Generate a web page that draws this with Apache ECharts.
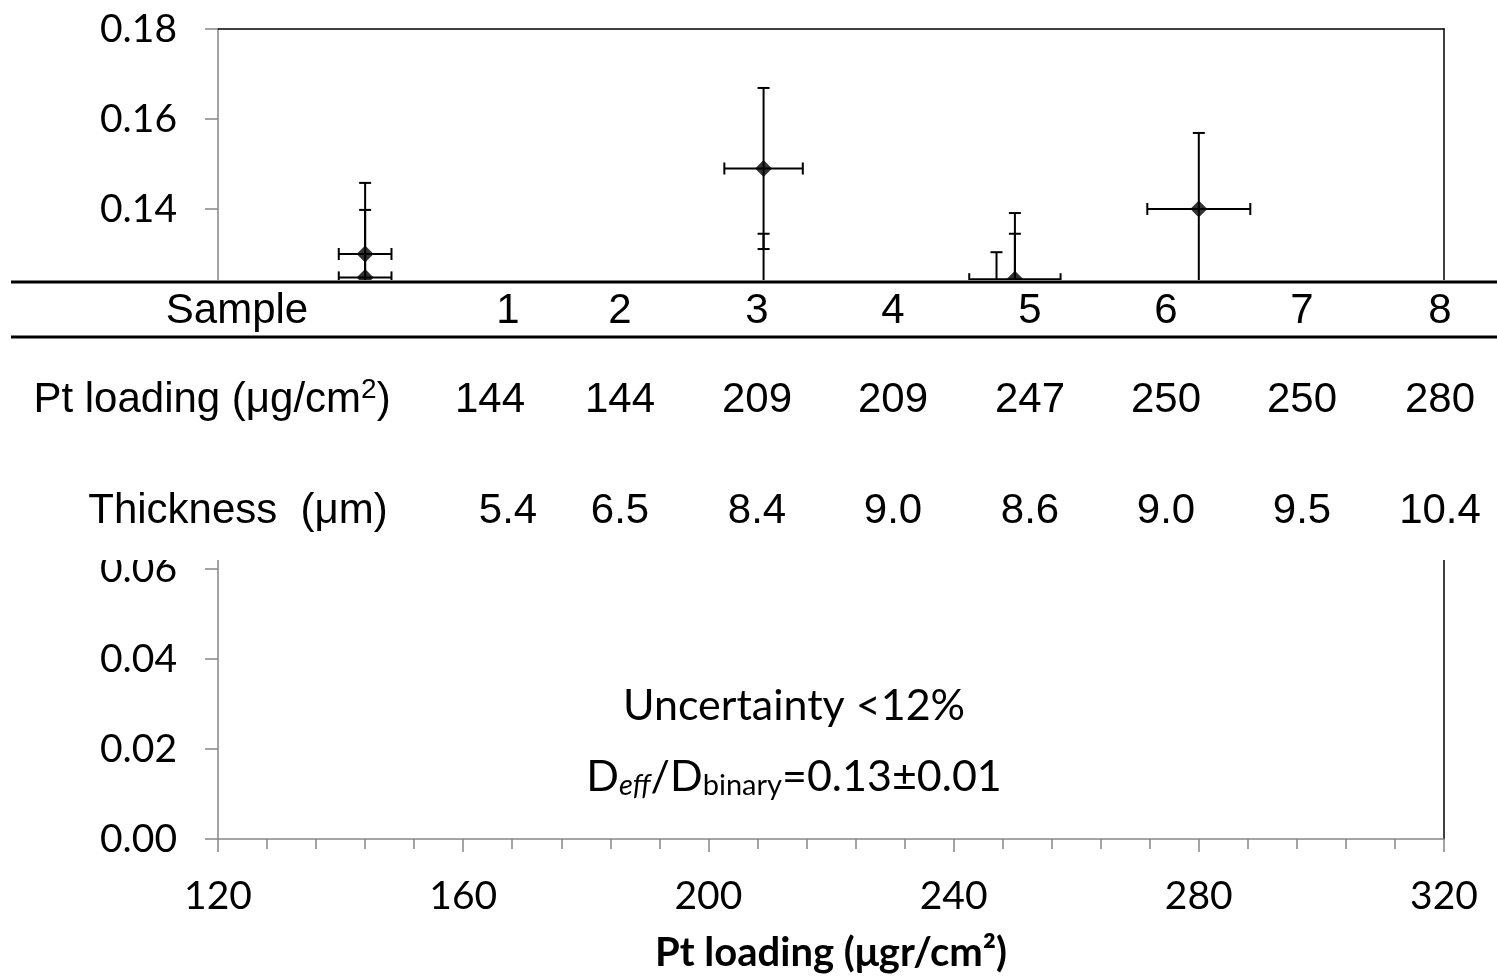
<!DOCTYPE html>
<html><head><meta charset="utf-8">
<script src="https://cdn.jsdelivr.net/npm/echarts@6/dist/echarts.min.js"></script>
<style>html,body{margin:0;padding:0;background:#fff}#c{width:1497px;height:976px}</style>
</head><body><div id="c"></div>
<script>
// ---- data ----
const ptLoading = [144, 144, 209, 209, 247, 250, 250, 280];
const deffRatio = [0.130, 0.1248, 0.149, 0.120, 0.1165, 0.1244, 0.120, 0.140];
const yError = [0.0158, 0.0150, 0.0179, 0.0145, 0.0139, 0.0147, 0.0145, 0.0169];
const xError = [4.3, 4.3, 6.4, 6.3, 7.4, 7.45, 7.5, 8.4];
const sampleLabels = ['1', '2', '3', '4', '5', '6', '7', '8'];
const tableLoading = ['144', '144', '209', '209', '247', '250', '250', '280'];
const tableThickness = ['5.4', '6.5', '8.4', '9.0', '8.6', '9.0', '9.5', '10.4'];
const rowLabels = ['Sample', 'Pt loading (μg/cm{sup|2})', 'Thickness  (μm)'];
const xTitle = 'Pt loading (μgr/cm²)';
const note1 = 'Uncertainty <12%';
const note2 = 'D{it|eff}/D{sub|binary}=0.13±0.01';

// ---- layout ----
const AXC = '#868686';
const LBL = 'Lato, "Open Sans", sans-serif';
const TBL = '"Liberation Sans", Arial, sans-serif';
const colX = [508, 620, 757, 893, 1030, 1166, 1302, 1440];
const rowY = [311, 400, 511];
const rowLabelX = [237, 212, 238];

const chart = echarts.init(document.getElementById('c'));

const table = [];
table.push({type: 'rect', shape: {x: 0, y: 280, width: 1497, height: 280}, style: {fill: '#fff'}, z: 100});
table.push({type: 'line', shape: {x1: 11, y1: 282, x2: 1497, y2: 282}, style: {stroke: '#000', lineWidth: 3.2}, z: 101});
table.push({type: 'line', shape: {x1: 11, y1: 337, x2: 1497, y2: 337}, style: {stroke: '#000', lineWidth: 3.2}, z: 101});
const rowsVals = [sampleLabels, tableLoading, tableThickness];
rowLabels.forEach((t, r) => {
  table.push({type: 'text', x: rowLabelX[r], y: rowY[r], z: 102,
    style: {text: t, font: '42px ' + TBL, fill: '#000', align: 'center', verticalAlign: 'middle',
      rich: {sup: {font: '28px ' + TBL, fill: '#000', padding: [0, 0, 20, 0]}}}});
  rowsVals[r].forEach((v, i) => {
    let x = colX[i];
    if (r === 1 && i === 0) x = 490;
    table.push({type: 'text', x: x, y: rowY[r], z: 102,
      style: {text: v, font: '42px ' + TBL, fill: '#000', align: 'center', verticalAlign: 'middle'}});
  });
});
table.push({type: 'text', x: 794, y: 706, z: 50,
  style: {text: note1, font: '43px ' + LBL, fill: '#000', align: 'center', verticalAlign: 'middle'}});
table.push({type: 'text', x: 794, y: 777, z: 50,
  style: {text: note2, font: '43px ' + LBL, fill: '#000', align: 'center', verticalAlign: 'middle',
    rich: {
      it: {font: 'italic 29px ' + LBL, fill: '#000', padding: [18, 0, 0, 0]},
      sub: {font: '29px ' + LBL, fill: '#000', padding: [18, 0, 0, 0]}
    }}});

function renderErr(params, api) {
  const x = api.value(0), y = api.value(1), ex = api.value(2), ey = api.value(3);
  const top = api.coord([x, y + ey]), bot = api.coord([x, y - ey]);
  const lft = api.coord([x - ex, y]), rgt = api.coord([x + ex, y]);
  const st = {stroke: '#000', lineWidth: 2};
  const cw = 6;
  return {type: 'group', children: [
    {type: 'line', shape: {x1: top[0], y1: top[1], x2: bot[0], y2: bot[1]}, style: st},
    {type: 'line', shape: {x1: top[0] - cw, y1: top[1], x2: top[0] + cw, y2: top[1]}, style: st},
    {type: 'line', shape: {x1: bot[0] - cw, y1: bot[1], x2: bot[0] + cw, y2: bot[1]}, style: st},
    {type: 'line', shape: {x1: lft[0], y1: lft[1], x2: rgt[0], y2: rgt[1]}, style: st},
    {type: 'line', shape: {x1: lft[0], y1: lft[1] - cw, x2: lft[0], y2: lft[1] + cw}, style: st},
    {type: 'line', shape: {x1: rgt[0], y1: rgt[1] - cw, x2: rgt[0], y2: rgt[1] + cw}, style: st}
  ]};
}

const option = {
  animation: false,
  backgroundColor: '#fff',
  grid: {left: 218, right: 53, top: 29, bottom: 137, containLabel: false, outerBoundsMode: 'none'},
  xAxis: [{
    type: 'value', min: 120, max: 320, interval: 40, position: 'bottom',
    axisLine: {show: true, onZero: false, lineStyle: {color: AXC, width: 1.5}},
    axisTick: {show: true, length: 13, lineStyle: {color: AXC, width: 1.5}},
    minorTick: {show: true, splitNumber: 5, length: 10, lineStyle: {color: AXC, width: 1.5}},
    splitLine: {show: false}, minorSplitLine: {show: false},
    axisLabel: {fontFamily: LBL, fontSize: 39, color: '#000', margin: 38},
    name: xTitle, nameLocation: 'middle', nameGap: 94,
    nameTextStyle: {fontFamily: LBL, fontWeight: 'bold', fontSize: 40, color: '#000'}
  }, {
    type: 'value', min: 120, max: 320, interval: 40, position: 'top',
    axisLine: {show: true, onZero: false, lineStyle: {color: '#000', width: 1.5}},
    axisTick: {show: false}, axisLabel: {show: false}, splitLine: {show: false}
  }],
  yAxis: [{
    type: 'value', min: 0, max: 0.18, interval: 0.02,
    axisLine: {show: true, onZero: false, lineStyle: {color: AXC, width: 1.5}},
    axisTick: {show: true, length: 13, lineStyle: {color: AXC, width: 1.5}},
    splitLine: {show: false},
    axisLabel: {fontFamily: LBL, fontSize: 39, color: '#000', margin: 41, formatter: v => v.toFixed(2)}
  }, {
    type: 'value', min: 0, max: 0.18, interval: 0.02, position: 'right',
    axisLine: {show: true, onZero: false, lineStyle: {color: '#000', width: 1.5}},
    axisTick: {show: false}, axisLabel: {show: false}, splitLine: {show: false}
  }],
  series: [{
    type: 'custom', renderItem: renderErr, z: 2,
    encode: {x: 0, y: 1},
    data: ptLoading.map((x, i) => [x, deffRatio[i], xError[i], yError[i]])
  }, {
    type: 'scatter', symbol: 'diamond', symbolSize: 17, z: 3,
    itemStyle: {color: '#000'},
    data: ptLoading.map((x, i) => [x, deffRatio[i]])
  }],
  graphic: table
};
chart.setOption(option);
</script>
</body></html>
